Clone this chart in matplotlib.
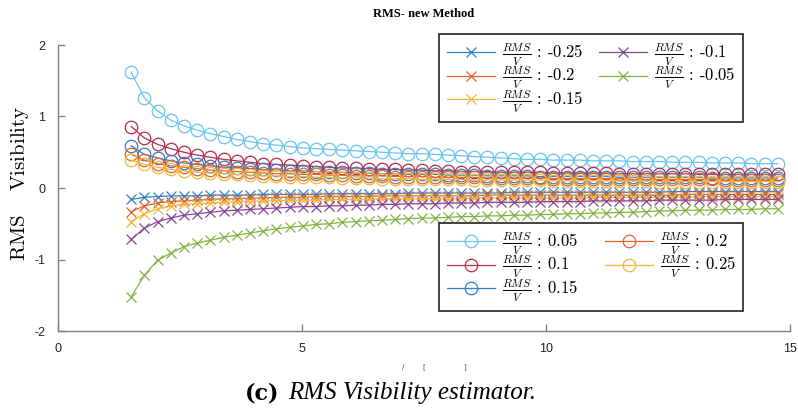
import numpy as np
import matplotlib
matplotlib.use('Agg')
import matplotlib.pyplot as plt

plt.rcParams['mathtext.fontset'] = 'cm'
plt.rcParams['axes.unicode_minus'] = False

# x positions (50 evaluation points)
x = np.linspace(1.5, 14.75, 50)

# positive RMS/V values (circle markers)
pos_labels = ['0.05', '0.1', '0.15', '0.2', '0.25']
p005 = [1.62, 1.26, 1.08, 0.95, 0.87, 0.81, 0.76, 0.72, 0.68, 0.65,
        0.62, 0.60, 0.58, 0.56, 0.55, 0.54, 0.53, 0.52, 0.51, 0.50,
        0.49, 0.48, 0.48, 0.47, 0.46, 0.45, 0.44, 0.43, 0.42, 0.41,
        0.40, 0.40, 0.39, 0.39, 0.39, 0.38, 0.38, 0.38, 0.37, 0.37,
        0.37, 0.36, 0.36, 0.36, 0.35, 0.35, 0.35, 0.34, 0.34, 0.34]
p01 = [0.86, 0.70, 0.61, 0.55, 0.50, 0.46, 0.43, 0.40, 0.38, 0.36,
       0.34, 0.33, 0.32, 0.31, 0.30, 0.29, 0.28, 0.28, 0.27, 0.26,
       0.26, 0.25, 0.25, 0.24, 0.24, 0.23, 0.23, 0.23, 0.22, 0.22,
       0.22, 0.22, 0.21, 0.21, 0.21, 0.21, 0.21, 0.20, 0.20, 0.20,
       0.20, 0.20, 0.20, 0.19, 0.19, 0.19, 0.19, 0.19, 0.19, 0.19]
p015 = [0.59, 0.47, 0.42, 0.38, 0.35, 0.33, 0.31, 0.29, 0.28, 0.27,
        0.26, 0.25, 0.24, 0.24, 0.23, 0.22, 0.22, 0.21, 0.21, 0.20,
        0.20, 0.19, 0.19, 0.19, 0.18, 0.18, 0.18, 0.17, 0.17, 0.17,
        0.17, 0.16, 0.16, 0.16, 0.16, 0.16, 0.16, 0.15, 0.15, 0.15,
        0.15, 0.15, 0.15, 0.15, 0.14, 0.14, 0.14, 0.14, 0.14, 0.14]
p02 = [0.47, 0.39, 0.34, 0.31, 0.29, 0.27, 0.25, 0.24, 0.23, 0.22,
       0.21, 0.20, 0.20, 0.19, 0.19, 0.18, 0.18, 0.17, 0.17, 0.17,
       0.16, 0.16, 0.16, 0.15, 0.15, 0.15, 0.15, 0.14, 0.14, 0.14,
       0.14, 0.14, 0.13, 0.13, 0.13, 0.13, 0.13, 0.13, 0.12, 0.12,
       0.12, 0.12, 0.12, 0.12, 0.12, 0.11, 0.11, 0.11, 0.11, 0.11]
p025 = [0.39, 0.33, 0.29, 0.26, 0.24, 0.22, 0.21, 0.20, 0.19, 0.18,
        0.17, 0.17, 0.16, 0.16, 0.15, 0.15, 0.14, 0.14, 0.14, 0.13,
        0.13, 0.13, 0.12, 0.12, 0.12, 0.12, 0.11, 0.11, 0.11, 0.11,
        0.11, 0.11, 0.10, 0.10, 0.10, 0.10, 0.10, 0.10, 0.10, 0.10,
        0.09, 0.09, 0.09, 0.09, 0.09, 0.09, 0.09, 0.09, 0.09, 0.09]

# negative RMS/V values (cross markers)
neg_labels = ['-0.25', '-0.2', '-0.15', '-0.1', '-0.05']
n025 = [-0.16, -0.13, -0.12, -0.11, -0.11, -0.11, -0.10, -0.10, -0.10, -0.10,
        -0.09, -0.09, -0.09, -0.09, -0.09, -0.08, -0.08, -0.08, -0.08, -0.08,
        -0.08, -0.07, -0.07, -0.07, -0.07, -0.07, -0.07, -0.07, -0.07, -0.06,
        -0.06, -0.06, -0.06, -0.06, -0.06, -0.06, -0.06, -0.06, -0.06, -0.06,
        -0.06, -0.05, -0.05, -0.05, -0.05, -0.05, -0.05, -0.05, -0.05, -0.05]
n02 = [-0.33, -0.25, -0.21, -0.19, -0.18, -0.17, -0.16, -0.15, -0.15, -0.14,
       -0.14, -0.13, -0.13, -0.13, -0.12, -0.12, -0.12, -0.12, -0.12, -0.11,
       -0.11, -0.11, -0.11, -0.11, -0.11, -0.11, -0.11, -0.10, -0.10, -0.10,
       -0.10, -0.10, -0.10, -0.10, -0.10, -0.10, -0.10, -0.10, -0.10, -0.10,
       -0.10, -0.10, -0.09, -0.09, -0.09, -0.09, -0.09, -0.09, -0.09, -0.09]
n015 = [-0.47, -0.36, -0.29, -0.25, -0.23, -0.22, -0.21, -0.20, -0.19, -0.19,
        -0.18, -0.18, -0.17, -0.17, -0.17, -0.16, -0.16, -0.16, -0.16, -0.15,
        -0.15, -0.15, -0.15, -0.15, -0.15, -0.15, -0.14, -0.14, -0.14, -0.14,
        -0.14, -0.14, -0.14, -0.14, -0.14, -0.13, -0.13, -0.13, -0.13, -0.13,
        -0.13, -0.13, -0.13, -0.12, -0.12, -0.12, -0.12, -0.12, -0.12, -0.12]
n01 = [-0.72, -0.56, -0.47, -0.42, -0.38, -0.36, -0.34, -0.32, -0.31, -0.30,
       -0.29, -0.28, -0.27, -0.26, -0.26, -0.25, -0.25, -0.24, -0.24, -0.23,
       -0.23, -0.22, -0.22, -0.22, -0.21, -0.21, -0.21, -0.20, -0.20, -0.20,
       -0.20, -0.19, -0.19, -0.19, -0.19, -0.18, -0.18, -0.18, -0.18, -0.18,
       -0.17, -0.17, -0.17, -0.17, -0.17, -0.16, -0.16, -0.16, -0.16, -0.16]
n005 = [-1.52, -1.22, -1.01, -0.91, -0.82, -0.77, -0.73, -0.69, -0.66, -0.63,
        -0.60, -0.57, -0.55, -0.53, -0.51, -0.50, -0.48, -0.47, -0.46, -0.45,
        -0.44, -0.43, -0.42, -0.42, -0.41, -0.40, -0.40, -0.39, -0.39, -0.38,
        -0.38, -0.37, -0.37, -0.36, -0.36, -0.35, -0.35, -0.34, -0.34, -0.33,
        -0.32, -0.32, -0.31, -0.31, -0.31, -0.30, -0.30, -0.30, -0.29, -0.29]

# MATLAB-like colour order (slightly lighter as in the figure)
c_blue = '#3281C6'
c_orange = '#E2622C'
c_yellow = '#F2B638'
c_purple = '#8A4399'
c_green = '#80B443'
c_cyan = '#6AC4EE'
c_red = '#B52D4A'

neg_series = [n025, n02, n015, n01, n005]
neg_colors = [c_blue, c_orange, c_yellow, c_purple, c_green]
pos_series = [p005, p01, p015, p02, p025]
pos_colors = [c_cyan, c_red, c_blue, c_orange, c_yellow]

fig = plt.figure(figsize=(7.98, 4.15), dpi=100)
ax = fig.add_axes([58 / 798, 1 - 331 / 415, 732 / 798, 286 / 415])

frac = r'$\frac{RMS}{V}$'
neg_handles = []
for vals, col, lab in zip(neg_series, neg_colors, neg_labels):
    h, = ax.plot(x, vals, color=col, lw=0.9, marker='x', ms=7.5, mew=0.9,
                 label=frac + ' : ' + lab)
    neg_handles.append(h)

pos_handles = []
for vals, col, lab in zip(pos_series, pos_colors, pos_labels):
    h, = ax.plot(x, vals, color=col, lw=0.9, marker='o', ms=9, mew=0.9,
                 mfc='none', label=frac + ' : ' + lab)
    pos_handles.append(h)

ax.set_xlim(0, 15)
ax.set_ylim(-2, 2)
ax.set_xticks([0, 5, 10, 15])
ax.set_yticks([-2, -1, 0, 1, 2])
for s in ['top', 'right']:
    ax.spines[s].set_visible(False)
for s in ['left', 'bottom']:
    ax.spines[s].set_color('#808080')
    ax.spines[s].set_linewidth(1.0)
ax.tick_params(direction='in', length=5, width=1.0, color='#808080',
               labelsize=9, labelcolor='#222222', pad=9)
for lbl in ax.get_xticklabels() + ax.get_yticklabels():
    lbl.set_fontfamily('Liberation Sans')

ax.set_title('RMS- new Method', fontfamily='Liberation Serif', fontweight='bold',
             fontsize=9, pad=20)
ax.set_ylabel(r'$\mathrm{RMS\quad\ Visibility}$', fontsize=15)
ax.yaxis.set_label_coords((31 - 58) / 732, (331 - 183) / 286)

leg_kw = dict(ncol=2, frameon=True, fancybox=False, framealpha=1,
              edgecolor='#222222', prop={'family': 'cmr10', 'size': 12},
              handlelength=2.9, handletextpad=0.4, columnspacing=0.8,
              labelspacing=-0.15, borderpad=0.45, borderaxespad=0,
              mode='expand', loc='upper left',
              bbox_transform=fig.transFigure)
leg1 = ax.legend(handles=neg_handles,
                 bbox_to_anchor=(439 / 798, 1 - 120 / 415, 304 / 798, 86 / 415),
                 **leg_kw)
leg1.get_frame().set_linewidth(1.2)
ax.add_artist(leg1)
leg2 = ax.legend(handles=pos_handles,
                 bbox_to_anchor=(439 / 798, 1 - 308 / 415, 304 / 798, 85 / 415),
                 **leg_kw)
leg2.get_frame().set_linewidth(1.2)

# remnants of the hidden x label
for xp, ch in [(403, '/'), (424, '['), (465, ']')]:
    fig.text(xp / 798, 1 - 367 / 415, ch, fontsize=5, ha='center', va='center',
             color='#444444')

# caption
fig.text(245 / 798, 1 - 393 / 415, '(c)', fontfamily='DejaVu Serif',
         fontweight='bold', fontsize=16, va='center', ha='left')
fig.text(288 / 798, 1 - 393 / 415, 'RMS Visibility estimator.',
         fontfamily='Liberation Serif', fontstyle='italic', fontsize=18,
         va='center', ha='left')

fig.savefig('out.png', dpi=100)
